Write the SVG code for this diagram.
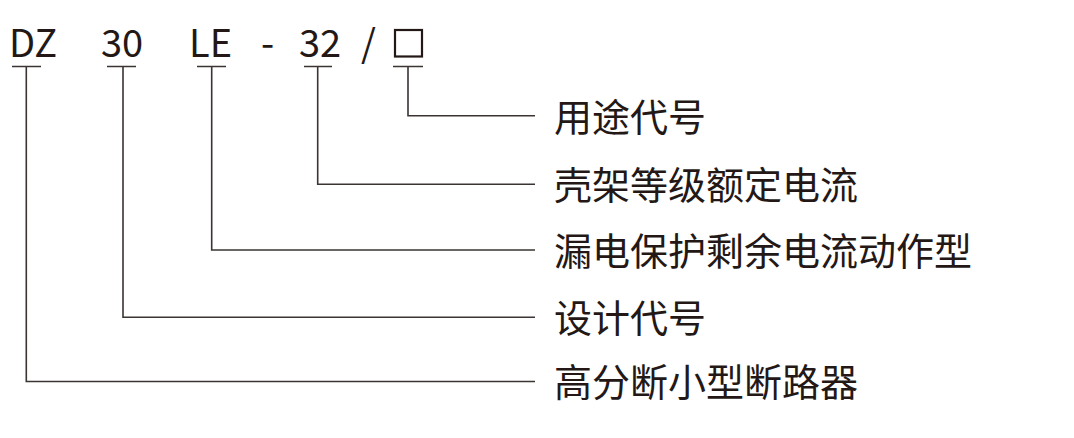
<svg xmlns="http://www.w3.org/2000/svg" width="1074" height="438" viewBox="0 0 1074 438">
<style>
.t{font-family:"Noto Sans CJK SC","Noto Sans",sans-serif;font-size:38px;fill:#231815}
.c{fill:none;stroke:#3a3432;stroke-width:1.6}
</style>
<rect width="1074" height="438" fill="#fff"/>
<g id="code">
<text class="t" x="9" y="57">DZ</text>
<text class="t" x="101" y="57">30</text>
<text class="t" x="189" y="57">LE</text>
<text class="t" x="261" y="57">-</text>
<text class="t" x="299" y="57">32</text>
<text class="t" x="361" y="57">/</text>
<rect x="395" y="30" width="27" height="26.5" fill="none" stroke="#231815" stroke-width="2.2"/>
</g>
<g id="connectors" class="c">
<path d="M12 66.5H41M26.3 66.5V381.5H535"/>
<path d="M107 66.5H136M123 66.5V317.3H535"/>
<path d="M197 66.5H226M211.7 66.5V250H535"/>
<path d="M304 66.5H332M317.7 66.5V184.3H535"/>
<path d="M393 66.5H423M408 66.5V115.8H535"/>
</g>
<g id="n1"><text class="t" x="554" y="130.5">用途代号</text></g>
<g id="n2"><text class="t" x="554" y="198.5">壳架等级额定电流</text></g>
<g id="n3"><text class="t" x="554" y="264.5">漏电保护剩余电流动作型</text></g>
<g id="n4"><text class="t" x="554" y="331.5">设计代号</text></g>
<g id="n5"><text class="t" x="554" y="395.5">高分断小型断路器</text></g>
</svg>
